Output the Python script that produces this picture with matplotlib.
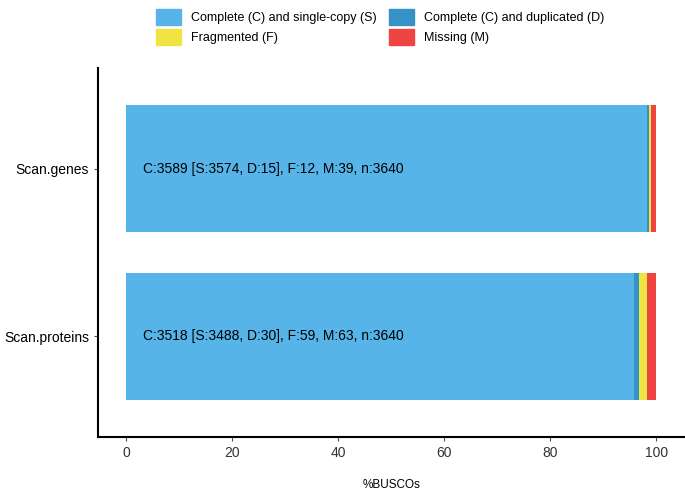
import matplotlib
matplotlib.use("Agg")
import matplotlib.pyplot as plt
from matplotlib.patches import Patch

plt.rcParams["font.family"] = "Liberation Sans"

species = ["Scan.proteins", "Scan.genes"]
single = [3488, 3574]
duplicated = [30, 15]
fragmented = [59, 12]
missing = [63, 39]
total = [3640, 3640]

labels = ["Complete (C) and single-copy (S)", "Complete (C) and duplicated (D)",
          "Fragmented (F)", "Missing (M)"]
colors = ["#56B4E9", "#3492C7", "#F0E442", "#F04442"]

fig = plt.figure(figsize=(6.85, 4.92), dpi=100)
ax = fig.add_axes([98 / 685, 1 - 437 / 492, 587 / 685, 369 / 492])

for i, sp in enumerate(species):
    parts = [single[i], duplicated[i], fragmented[i], missing[i]]
    left = 0
    for val, c in zip(parts, colors):
        w = val / total[i] * 100
        ax.barh(i, w, left=left, height=0.756, color=c, linewidth=0)
        left += w
    comp = single[i] + duplicated[i]
    ax.text(3.2, i, f"C:{comp} [S:{single[i]}, D:{duplicated[i]}], F:{fragmented[i]}, "
            f"M:{missing[i]}, n:{total[i]}", va="center", ha="left", fontsize=10)

ax.set_xlim(-5.3, 105.4)
ax.set_ylim(-0.6, 1.6)
ax.set_yticks(range(len(species)))
ax.set_yticklabels(species, fontsize=10)
ax.set_xticks([0, 20, 40, 60, 80, 100])
ax.tick_params(axis="x", labelsize=10, colors="#4d4d4d", labelcolor="#333333", length=3)
ax.tick_params(axis="y", length=3, colors="#4d4d4d", labelcolor="black")
for s in ["top", "right"]:
    ax.spines[s].set_visible(False)
for s in ["left", "bottom"]:
    ax.spines[s].set_linewidth(1.5)
ax.set_xlabel("%BUSCOs", fontsize=8.5, labelpad=14)

order = [0, 2, 1, 3]
handles = [Patch(color=colors[k], label=labels[k]) for k in order]
fig.legend(handles=handles, ncol=2, loc="upper center", bbox_to_anchor=(0.555, 1.005),
           frameon=False, fontsize=9, handlelength=2.0, handleheight=1.6,
           columnspacing=1.0, labelspacing=0.35)

fig.savefig("out.png", dpi=100)
